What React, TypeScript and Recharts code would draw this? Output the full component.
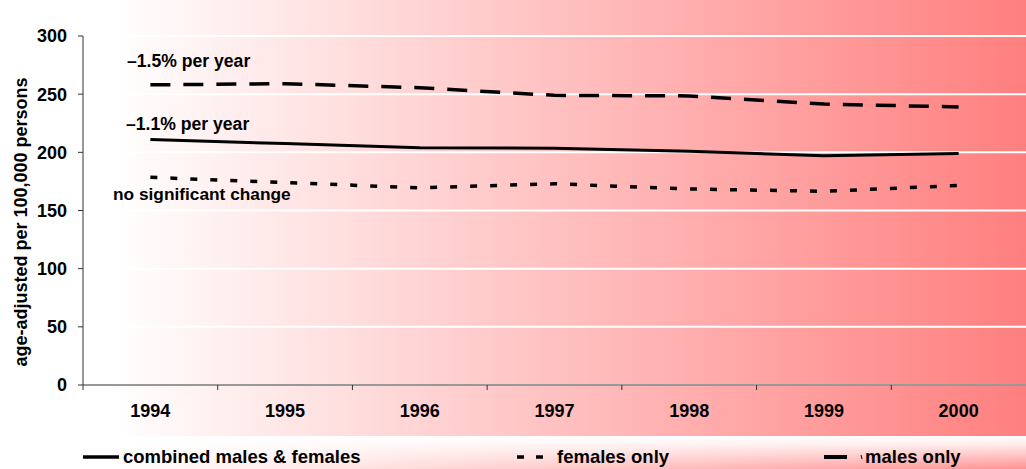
import React from 'react';
import { LineChart, Line, XAxis, YAxis, CartesianGrid } from 'recharts';

const years = ['1994', '1995', '1996', '1997', '1998', '1999', '2000'];
const combined = [211, 207.5, 204, 203.5, 201, 197, 199];
const females = [178.5, 174, 169.5, 173, 168.5, 166.5, 171.5];
const males = [258, 259, 255.5, 249, 248.5, 241.5, 239];
const yTicks = [0, 50, 100, 150, 200, 250, 300];

const seriesNames = {
  combined: 'combined males & females',
  females: 'females only',
  males: 'males only',
};

const data = years.map((y, i) => ({
  year: y,
  combined: combined[i],
  females: females[i],
  males: males[i],
}));

const W = 1026;
const H = 469;
const PLOT_LEFT = 83;
const BAND = (W - PLOT_LEFT) / years.length;
const FONT = '"Liberation Sans", Arial, Helvetica, sans-serif';

const XTick = (props: any) => {
  const { x, y, payload } = props;
  return (
    <g>
      <line x1={x - BAND / 2} x2={x - BAND / 2} y1={y} y2={y + 5} stroke="#333" strokeWidth={1} />
      <text x={x} y={y + 32} textAnchor="middle" fontSize={18} fontWeight="bold" fill="#000" fontFamily={FONT}>
        {payload.value}
      </text>
    </g>
  );
};

export default function App() {
  return (
    <div
      style={{
        position: 'fixed',
        left: 0,
        top: 0,
        width: W,
        height: H,
        overflow: 'hidden',
        background: 'linear-gradient(to right, #ffffff 0%, #ffffff 11%, #ff7f7f 100%)',
        fontFamily: FONT,
      }}
    >
      <div
        style={{
          position: 'absolute',
          left: 0,
          top: 436,
          width: W,
          height: 33,
          background: 'linear-gradient(to bottom, rgba(255,255,255,1) 0%, rgba(255,255,255,0.85) 25%, rgba(255,255,255,0.15) 100%)',
        }}
      />
      <div style={{ position: 'absolute', left: 0, top: 0 }}>
        <LineChart width={W} height={H} data={data} margin={{ top: 36, right: 0, bottom: 0, left: 0 }}>
          <CartesianGrid horizontal vertical={false} stroke="#ffffff" strokeWidth={2} />
          <XAxis
            dataKey="year"
            scale="band"
            tickSize={0}
            tickMargin={0}
            tickLine={false}
            axisLine={{ stroke: '#333', strokeWidth: 1 }}
            tick={<XTick />}
            interval={0}
            height={84}
          />
          <YAxis
            width={83}
            domain={[0, 300]}
            ticks={yTicks}
            interval={0}
            tickSize={5}
            tickMargin={11}
            axisLine={{ stroke: '#333', strokeWidth: 1 }}
            tickLine={{ stroke: '#333', strokeWidth: 1 }}
            tick={{ fontSize: 18, fontWeight: 'bold', fill: '#000', fontFamily: FONT }}
          />
          <Line
            dataKey="males"
            name={seriesNames.males}
            stroke="#000"
            strokeWidth={3.5}
            strokeDasharray="20 13"
            dot={false}
            isAnimationActive={false}
          />
          <Line
            dataKey="combined"
            name={seriesNames.combined}
            stroke="#000"
            strokeWidth={3}
            dot={false}
            isAnimationActive={false}
          />
          <Line
            dataKey="females"
            name={seriesNames.females}
            stroke="#000"
            strokeWidth={3.5}
            strokeDasharray="7 13"
            dot={false}
            isAnimationActive={false}
          />
        </LineChart>
      </div>
      <svg
        width={W}
        height={H}
        style={{ position: 'absolute', left: 0, top: 0, pointerEvents: 'none' }}
        fontFamily={FONT}
        fontWeight="bold"
      >
        <text x={127} y={67} fontSize={17.6} fill="#000">–1.5% per year</text>
        <text x={126} y={129.5} fontSize={17.6} fill="#000">–1.1% per year</text>
        <text x={113} y={200} fontSize={17.3} fill="#000">no significant change</text>
        <text
          transform="translate(27,222) rotate(-90)"
          textAnchor="middle"
          fontSize={18}
          fill="#000"
        >
          age-adjusted per 100,000 persons
        </text>
        <line x1={83} x2={119} y1={457} y2={457} stroke="#000" strokeWidth={3.5} />
        <text x={123} y={463} fontSize={18.5} fill="#000">{seriesNames.combined}</text>
        <line x1={517} x2={544} y1={457} y2={457} stroke="#000" strokeWidth={3.5} strokeDasharray="7 12" />
        <text x={557} y={463} fontSize={18.5} fill="#000">{seriesNames.females}</text>
        <line x1={824} x2={847} y1={457} y2={457} stroke="#000" strokeWidth={4} />
        <line x1={861} x2={862} y1={455} y2={459} stroke="#000" strokeWidth={1} />
        <text x={865} y={463} fontSize={18.5} fill="#000">{seriesNames.males}</text>
      </svg>
    </div>
  );
}
